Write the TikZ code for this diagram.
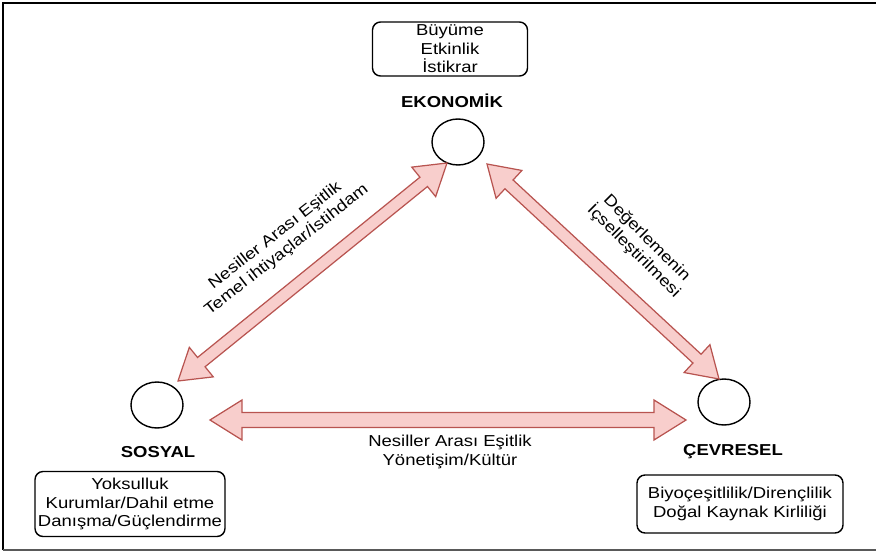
\documentclass[tikz,border=0pt]{standalone}
\usepackage{fontspec}
\setmainfont{Liberation Sans}[FakeStretch=1.17]
\usetikzlibrary{calc,shapes.geometric}
\definecolor{arrfill}{HTML}{F8CECC}
\definecolor{arrline}{HTML}{B85450}
\newcommand{\dblarrow}[5]{%
\draw[blockarrow] (#1) -- ($(#1)!#3!(#2)!#4!90:(#2)$) -- ($(#1)!#3!(#2)!#5!90:(#2)$)
  -- ($(#2)!#3!(#1)!#5!-90:(#1)$) -- ($(#2)!#3!(#1)!#4!-90:(#1)$) -- (#2)
  -- ($(#2)!#3!(#1)!#4!90:(#1)$) -- ($(#2)!#3!(#1)!#5!90:(#1)$)
  -- ($(#1)!#3!(#2)!#5!-90:(#2)$) -- ($(#1)!#3!(#2)!#4!-90:(#2)$) -- cycle;}

\begin{document}
\begin{tikzpicture}[x=0.02cm,y=-0.02cm,font=\fontsize{9}{10.5}\selectfont,
  pole/.style={draw,ellipse,minimum width=1.04cm,minimum height=0.92cm,line width=0.8pt},
  ttl/.style={font=\fontsize{9}{10.5}\selectfont\bfseries},
  infobox/.style={draw,rounded corners=0.16cm,align=center,inner sep=0pt,line width=0.8pt},
  blockarrow/.style={draw=arrline,fill=arrfill,line width=0.7pt},
  lbl/.style={align=center}]
\useasboundingbox (0,0) rectangle (876,554);
\draw[line width=1.1pt] (3,550) -- (3,3) -- (876,3);
\draw[black!65,line width=1.2pt] (3,550) -- (876,550);

\node[infobox,minimum width=3.1cm,minimum height=1.08cm] (ekbox) at (450,49) {Büyüme\\Etkinlik\\İstikrar};
\node[ttl] (ekt) at (452,101) {EKONOMİK};
\node[pole] (ek) at (458,142) {};

\node[pole] (so) at (157,405) {};
\node[ttl] (sot) at (158,452) {SOSYAL};
\node[infobox,minimum width=3.8cm,minimum height=1.3cm] (sobox) at (130,504) {Yoksulluk\\Kurumlar/Dahil etme\\Danışma/Güçlendirme};

\node[pole] (ce) at (724,402) {};
\node[ttl] (cet) at (733,452) {ÇEVRESEL};
\node[infobox,minimum width=4.12cm,minimum height=1.16cm] (cebox) at (740,504) {Biyoçeşitlilik/Dirençlilik\\Doğal Kaynak Kirliliği};

\coordinate (so-ek) at ($(so)+(21,-24)$);
\coordinate (ek-so) at ($(ek)+(-11,21)$);
\coordinate (ek-ce) at ($(ek)+(29,22)$);
\coordinate (ce-ek) at ($(ce)+(-5,-23)$);
\coordinate (so-ce) at ($(so)+(53,15)$);
\coordinate (ce-so) at ($(ce)+(-38,18)$);
\dblarrow{so-ek}{ek-so}{0.6cm}{0.38cm}{0.12cm}
\dblarrow{ek-ce}{ce-ek}{0.6cm}{0.38cm}{0.12cm}
\dblarrow{so-ce}{ce-so}{0.64cm}{0.4cm}{0.15cm}

\node[lbl,rotate=38] (l1) at (281,243) {Nesiller Arası Eşitlik\\Temel ihtiyaçlar/İstihdam};
\node[lbl,rotate=-45] (l2) at (640,245) {Değerlemenin\\İçselleştirilmesi};
\node[lbl] (l3) at (450,452) {Nesiller Arası Eşitlik\\Yönetişim/Kültür};
\end{tikzpicture}
\end{document}
